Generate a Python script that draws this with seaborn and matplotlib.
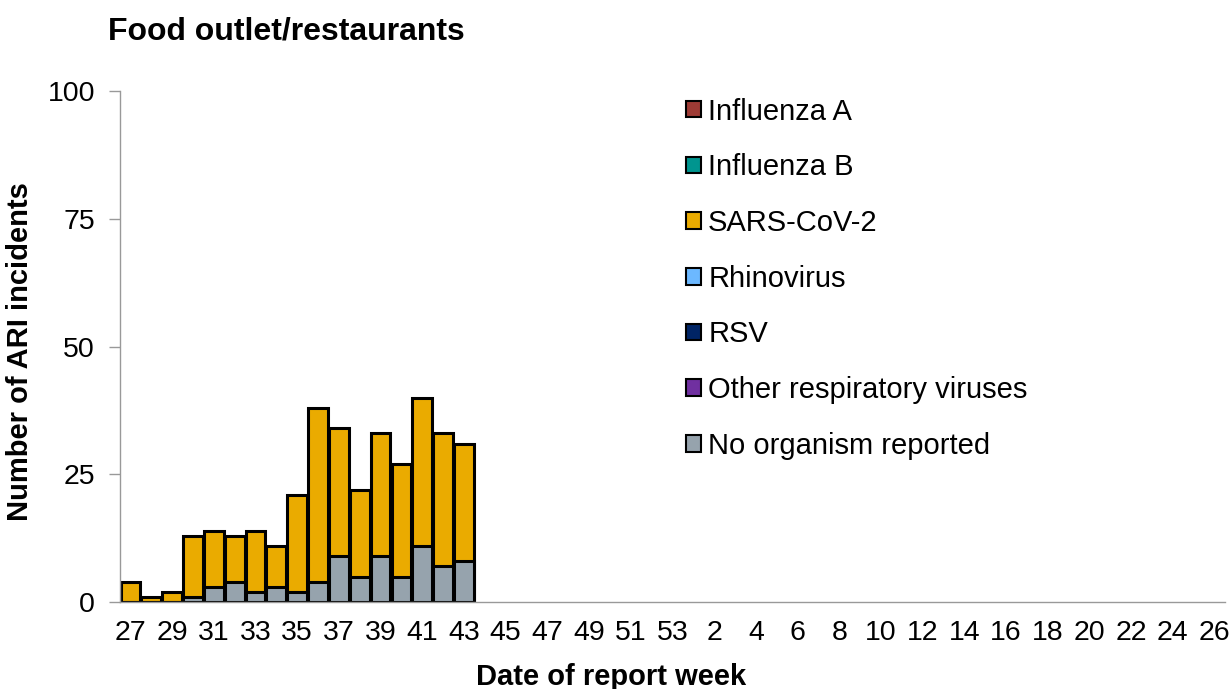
import numpy as np
import pandas as pd
import matplotlib
matplotlib.use("Agg")
import matplotlib.pyplot as plt
import seaborn as sns
from matplotlib.patches import Patch

# report weeks: 27..53 then 1..26
all_weeks = [str(w) for w in range(27, 54)] + [str(w) for w in range(1, 27)]
weeks = [str(w) for w in range(27, 44)]
no_organism = [0, 0, 0, 1, 3, 4, 2, 3, 2, 4, 9, 5, 9, 5, 11, 7, 8]
sars_cov2 = [4, 1, 2, 12, 11, 9, 12, 8, 19, 34, 25, 17, 24, 22, 29, 26, 23]

series_names = ["Influenza A", "Influenza B", "SARS-CoV-2", "Rhinovirus", "RSV",
                "Other respiratory viruses", "No organism reported"]
series_colors = ["#9E3B35", "#00958F", "#EAAB00", "#6CB8FF", "#002465",
                 "#7030A0", "#96A3AD"]

df = pd.DataFrame({"week": weeks, "none": no_organism, "sars": sars_cov2})
df["total"] = df["none"] + df["sars"]

sns.set_style("white")
plt.rcParams['font.family'] = ['Liberation Sans', 'DejaVu Sans']
plt.rcParams['text.color'] = 'black'
plt.rcParams['axes.labelcolor'] = 'black'

fig = plt.figure(figsize=(12.31, 6.89), dpi=100)
ax = fig.add_axes([0.0975, 0.126, 0.8975, 0.742])

sns.barplot(data=df, x="week", y="total", order=all_weeks, color=series_colors[2],
            saturation=1, width=0.95, edgecolor="black", linewidth=2.2, ax=ax)
sns.barplot(data=df, x="week", y="none", order=all_weeks, color=series_colors[6],
            saturation=1, width=0.95, edgecolor="black", linewidth=2.2, ax=ax)

ax.set_xlim(-0.5, len(all_weeks) - 0.5)
ax.set_ylim(0, 100)
ax.set_yticks([0, 25, 50, 75, 100])

ax.set_xticks(range(len(all_weeks)))
ax.set_xticklabels([w if i % 2 == 0 else "" for i, w in enumerate(all_weeks)])
ax.set_xticks(np.arange(-0.5, len(all_weeks), 1), minor=True)
ax.tick_params(axis="x", which="major", length=0, labelsize=20.5, pad=13, labelcolor="black")
ax.tick_params(axis="x", which="minor", length=7, width=1, color="#999999", direction="out")
ax.tick_params(axis="y", length=8, width=1, color="#999999", labelsize=20.5,
               direction="out", left=True, pad=10, labelcolor="black")

for s in ["top", "right"]:
    ax.spines[s].set_visible(False)
for s in ["left", "bottom"]:
    ax.spines[s].set_color("#999999")
    ax.spines[s].set_linewidth(1)

ax.set_xlabel("Date of report week", fontsize=21, fontweight="bold")
ax.xaxis.set_label_coords(0.444, -0.118)
ax.set_ylabel("Number of ARI incidents", fontsize=21, fontweight="bold")
ax.yaxis.set_label_coords(-0.078, 0.49)
fig.text(0.088, 0.955, "Food outlet/restaurants", fontsize=23, fontweight="bold",
         ha="left", va="center")

handles = [Patch(facecolor=c, edgecolor="black", linewidth=1.5) for c in series_colors]
ax.legend(handles, series_names, loc="upper left", bbox_to_anchor=(0.502, 1.01),
          frameon=False, fontsize=21, handlelength=0.5, handleheight=0.5,
          handletextpad=0.25, labelspacing=0.95, borderaxespad=0)

fig.savefig("out.png", dpi=100)
